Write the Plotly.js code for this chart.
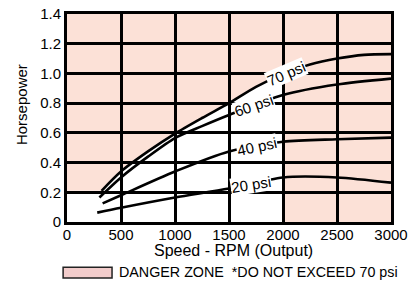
<!DOCTYPE html>
<html>
<head>
<meta charset="utf-8">
<script src="https://cdn.plot.ly/plotly-3.0.1.min.js"></script>
<style>html,body{margin:0;padding:0;background:#fff;}#chart{width:414px;height:285px;}</style>
</head>
<body>
<div id="chart"></div>
<script>
// ---- data ----
const rpm70 = [320, 500, 750, 1000, 1250, 1500, 1750, 2000, 2250, 2500, 2750, 3000];
const hp70  = [0.21, 0.34, 0.475, 0.595, 0.70, 0.80, 0.91, 0.995, 1.06, 1.10, 1.125, 1.13];
const rpm60 = [300, 500, 750, 1000, 1250, 1500, 2000, 2500, 3000];
const hp60  = [0.165, 0.30, 0.44, 0.565, 0.645, 0.72, 0.855, 0.925, 0.965];
const rpm40 = [330, 500, 1000, 1500, 2000, 2500, 3000];
const hp40  = [0.125, 0.18, 0.34, 0.475, 0.54, 0.557, 0.568];
const rpm20 = [280, 500, 1000, 1500, 2000, 2500, 3000];
const hp20  = [0.063, 0.096, 0.165, 0.225, 0.30, 0.30, 0.265];

const seriesNames = ['70 psi', '60 psi', '40 psi', '20 psi'];
const labelRpm = [2030, 1728, 1756, 1700];
const labelAngle = [-23, -19, -12, -9];

const xTickVals = [0, 500, 1000, 1500, 2000, 2500, 3000];
const xTickText = ['0', '500', '1000', '1500', '2000', '2500', '3000'];
const yTickVals = [0, 0.2, 0.4, 0.6, 0.8, 1.0, 1.2, 1.4];
const yTickText = ['0', '0.2', '0.4', '0.6', '0.8', '1.0', '1.2', '1.4'];

const dangerStartRpm = 2000;   // fully dangerous above this speed
const xMax = 3000, yMax = 1.4;
const legendText = 'DANGER ZONE  *DO NOT EXCEED 70 psi';
const xTitle = 'Speed - RPM (Output)';
const yTitle = 'Horsepower';

// ---- build ----
const FONT = 'Liberation Sans, Arial, Helvetica, sans-serif';
const rpms = [rpm70, rpm60, rpm40, rpm20];
const hps = [hp70, hp60, hp40, hp20];

function interp(xs, ys, x) {
  for (let i = 0; i < xs.length - 1; i++) {
    if (x >= xs[i] && x <= xs[i + 1]) {
      const t = (x - xs[i]) / (xs[i + 1] - xs[i]);
      return ys[i] + t * (ys[i + 1] - ys[i]);
    }
  }
  return ys[ys.length - 1];
}

const traces = rpms.map((xs, i) => ({
  type: 'scatter', mode: 'lines', x: xs, y: hps[i], name: seriesNames[i],
  line: {color: '#000', width: 2.6, shape: 'spline', smoothing: 0.8},
  showlegend: false, hoverinfo: 'skip'
}));

// danger zone path: above the 70 psi curve up to 2000 rpm, and everything beyond 2000 rpm
let path = 'M0,' + hp70[0] + ' ';
for (let i = 0; i < rpm70.length; i++) {
  if (rpm70[i] <= dangerStartRpm) path += 'L' + rpm70[i] + ',' + hp70[i] + ' ';
}
path += 'L' + dangerStartRpm + ',0 L' + xMax + ',0 L' + xMax + ',' + yMax + ' L0,' + yMax + ' Z';

const shapes = [
  {type: 'path', xref: 'x', yref: 'y', path: path, fillcolor: '#fce1d7', line: {width: 0}, layer: 'below'},
  // legend swatch
  {type: 'rect', xref: 'paper', yref: 'paper', x0: -0.012, x1: 0.139, y0: -0.269, y1: -0.218,
   fillcolor: '#f2cccb', line: {color: '#222', width: 1.5}}
];

const annotations = seriesNames.map((n, i) => ({
  x: labelRpm[i], y: interp(rpms[i], hps[i], labelRpm[i]), xref: 'x', yref: 'y',
  text: n, showarrow: false, textangle: labelAngle[i], bgcolor: '#fff', borderpad: 0,
  font: {family: FONT, size: 15, color: '#000'}
}));
annotations.push({
  xref: 'paper', yref: 'paper', x: 0.154, y: -0.240, xanchor: 'left', yanchor: 'middle',
  text: legendText, showarrow: false, font: {family: FONT, size: 14.3, color: '#000'}
});
annotations.push({
  xref: 'paper', yref: 'paper', x: -0.142, y: 0.567, xanchor: 'center', yanchor: 'middle',
  text: yTitle, textangle: -90, showarrow: false, font: {family: FONT, size: 15, color: '#000'}
});
annotations.push({
  xref: 'paper', yref: 'paper', x: 0.513, y: -0.139, xanchor: 'center', yanchor: 'middle',
  text: xTitle, showarrow: false, font: {family: FONT, size: 16, color: '#000'}
});

const layout = {
  width: 414, height: 285,
  margin: {l: 67, r: 23, t: 14, b: 63},
  paper_bgcolor: '#fff', plot_bgcolor: '#fff',
  font: {family: FONT, color: '#000'},
  showlegend: false,
  xaxis: {
    range: [0, xMax], tickvals: xTickVals, ticktext: xTickText,
    showgrid: true, gridcolor: '#000', gridwidth: 3, zeroline: false,
    showline: true, mirror: true, linecolor: '#000', linewidth: 3,
    ticks: '', ticklabelstandoff: -3, tickfont: {family: FONT, size: 15, color: '#000'},
    fixedrange: true
  },
  yaxis: {
    range: [0, yMax], tickvals: yTickVals, ticktext: yTickText,
    showgrid: true, gridcolor: '#000', gridwidth: 3, zeroline: false,
    showline: true, mirror: true, linecolor: '#000', linewidth: 3,
    ticks: '', tickfont: {family: FONT, size: 15, color: '#000'},
    fixedrange: true
  },
  shapes: shapes,
  annotations: annotations
};

Plotly.newPlot('chart', traces, layout, {staticPlot: true, displayModeBar: false});
</script>
</body>
</html>
